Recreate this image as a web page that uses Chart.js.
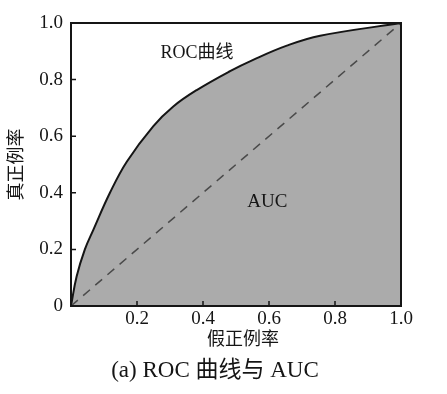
<!DOCTYPE html>
<html>
<head>
<meta charset="utf-8">
<script src="https://cdn.jsdelivr.net/npm/chart.js@4"></script>
<style>
html, body { margin: 0; padding: 0; background: #fff; }
#wrap { width: 447px; height: 394px; }
</style>
</head>
<body>
<div id="wrap"><canvas id="roc"></canvas></div>
<script>
// points (false positive rate / true positive rate)
const fpr = [0, 0.017, 0.042, 0.068, 0.118, 0.169, 0.249, 0.31, 0.381, 0.482, 0.552, 0.654, 0.755, 1.0];
const tpr = [0, 0.104, 0.2, 0.27, 0.40, 0.51, 0.635, 0.705, 0.763, 0.83, 0.87, 0.92, 0.955, 1.0];
// random guess line
const diagX = [0, 1];
const diagY = [0, 1];
const tickValues = [0, 0.2, 0.4, 0.6, 0.8, 1.0];

const xTitle = '假正例率';
const yTitle = '真正例率';
const caption = '(a) ROC 曲线与 AUC';
// text notes inside the plot, placed in data coordinates
const noteText = ['ROC曲线', 'AUC'];
const noteSize = [18, 19];
const noteX = [0.382, 0.595];
const noteY = [0.894, 0.367];

const serif = '"Liberation Serif", "DejaVu Serif", "Noto Sans CJK SC", serif';
const ink = '#151515';

const frame = {
    id: 'frame',
    afterDatasetsDraw(chart) {
        const ctx = chart.ctx;
        const a = chart.chartArea;
        const x = chart.scales.x, y = chart.scales.y;
        ctx.save();
        ctx.strokeStyle = ink;
        // small inward ticks
        ctx.lineWidth = 1.5;
        ctx.beginPath();
        tickValues.slice(1, -1).forEach(v => {
            let px = x.getPixelForValue(v);
            ctx.moveTo(px, a.bottom);
            ctx.lineTo(px, a.bottom - 5);
            let py = y.getPixelForValue(v);
            ctx.moveTo(a.left, py);
            ctx.lineTo(a.left + 5, py);
        });
        ctx.stroke();
        ctx.lineWidth = 2;
        ctx.strokeRect(a.left, a.top, a.right - a.left, a.bottom - a.top);

        ctx.fillStyle = ink;
        ctx.textAlign = 'center';
        ctx.textBaseline = 'middle';
        noteText.forEach((t, i) => {
            ctx.font = noteSize[i] + 'px ' + serif;
            ctx.fillText(t, x.getPixelForValue(noteX[i]), y.getPixelForValue(noteY[i]));
        });

        ctx.font = '18px ' + serif;
        ctx.fillText(xTitle, 243, 340);
        ctx.font = '23px ' + serif;
        ctx.fillText(caption, 215, 371);
        ctx.restore();
    }
};

const tickFont = { family: serif, size: 19 };

new Chart(document.getElementById('roc'), {
    type: 'line',
    data: {
        datasets: [
            {
                data: diagX.map((v, i) => ({ x: v, y: diagY[i] })),
                borderColor: '#4a4a4a',
                borderWidth: 1.5,
                borderDash: [9, 7],
                pointRadius: 0,
                fill: false,
                order: 1
            },
            {
                data: fpr.map((v, i) => ({ x: v, y: tpr[i] })),
                borderColor: ink,
                borderWidth: 2,
                backgroundColor: '#ababab',
                pointRadius: 0,
                tension: 0.4,
                fill: 'origin',
                order: 2
            }
        ]
    },
    options: {
        responsive: true,
        maintainAspectRatio: false,
        animation: false,
        layout: { padding: { top: 23, right: 46, left: 0, bottom: 0 } },
        plugins: {
            legend: { display: false },
            tooltip: { enabled: false }
        },
        scales: {
            x: {
                type: 'linear',
                min: 0,
                max: 1,
                afterFit: s => { s.height = 88; },
                afterBuildTicks: s => { s.ticks = tickValues.map(v => ({ value: v })); },
                grid: { display: false, drawTicks: false },
                border: { display: false },
                ticks: {
                    padding: 2,
                    font: tickFont,
                    color: ink,
                    maxRotation: 0,
                    autoSkip: false,
                    callback: v => v === 0 ? '' : v.toFixed(1)
                }
            },
            y: {
                type: 'linear',
                min: 0,
                max: 1,
                afterFit: s => { s.width = 71; },
                afterBuildTicks: s => { s.ticks = tickValues.map(v => ({ value: v })); },
                grid: { display: false, drawTicks: false },
                border: { display: false },
                title: {
                    display: true,
                    text: yTitle,
                    color: ink,
                    font: { family: serif, size: 18 },
                    padding: { top: 6, bottom: 0 }
                },
                ticks: {
                    padding: 8,
                    font: tickFont,
                    color: ink,
                    autoSkip: false,
                    callback: v => v === 0 ? '0' : v.toFixed(1)
                }
            }
        }
    },
    plugins: [frame]
});
</script>
</body>
</html>
